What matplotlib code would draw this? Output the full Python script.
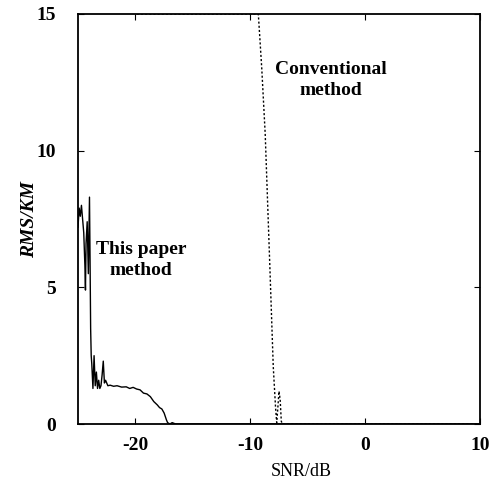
import matplotlib
matplotlib.use("Agg")
import matplotlib.pyplot as plt

plt.rcParams["axes.unicode_minus"] = False

# "This paper method" curve (solid)
snr_paper = [-25.0, -24.9, -24.8, -24.7, -24.6, -24.5, -24.4, -24.35, -24.3, -24.2,
             -24.1, -24.0, -23.95, -23.9, -23.85, -23.8, -23.7, -23.6, -23.5, -23.4,
             -23.3, -23.2, -23.1, -23.0, -22.9, -22.8, -22.7, -22.6, -22.4, -22.2,
             -21.9, -21.6, -21.2, -20.8, -20.5, -20.2, -19.9, -19.6, -19.3, -19.0,
             -18.7, -18.4, -18.1, -17.9, -17.7, -17.5, -17.3, -17.2, -17.0, -16.8,
             -16.5, -10.0, 0.0, 10.0]
rms_paper = [7.2, 7.9, 7.6, 8.0, 7.5, 7.0, 5.8, 4.9, 6.6, 7.4,
             5.5, 8.3, 6.0, 3.5, 2.5, 2.2, 1.3, 2.5, 1.4, 1.9,
             1.3, 1.6, 1.3, 1.4, 1.8, 2.3, 1.5, 1.6, 1.4, 1.42,
             1.38, 1.4, 1.35, 1.36, 1.3, 1.34, 1.28, 1.25, 1.13, 1.1,
             1.0, 0.82, 0.7, 0.6, 0.55, 0.4, 0.15, 0.05, 0.0, 0.05,
             0.0, 0.0, 0.0, 0.0]

# "Conventional method" curve (dotted)
snr_conv = [-25.0, -20.5, -20.0, -15.0, -10.0, -9.3, -9.0, -8.7, -8.3, -8.0,
            -7.8, -7.7, -7.6, -7.5, -7.4, -7.3, -7.2, 0.0, 10.0]
rms_conv = [16.0, 16.0, 15.0, 15.0, 15.0, 15.0, 13.0, 10.6, 5.8, 2.1,
            0.6, 0.05, 0.6, 1.2, 0.9, 0.1, 0.0, 0.0, 0.0]

serif = ["Liberation Serif", "DejaVu Serif"]

fig = plt.figure(figsize=(4.94, 4.86), dpi=100)
ax = fig.add_axes([78 / 494, 1 - 424 / 486, 402 / 494, 410 / 486])

ax.plot(snr_paper, rms_paper, color="black", lw=1.0)
ax.plot(snr_conv, rms_conv, color="black", lw=1.0, ls=(0, (1.5, 1.5)))

ax.set_xlim(-25, 10)
ax.set_ylim(0, 15)
ax.set_xticks([-20, -10, 0, 10])
ax.set_yticks([0, 5, 10, 15])
ax.tick_params(direction="in", length=4, top=True, right=True)
ax.tick_params(axis="x", pad=9)
ax.tick_params(axis="y", pad=16)
for lab in ax.get_xticklabels() + ax.get_yticklabels():
    lab.set_family(serif)
    lab.set_fontweight("bold")
    lab.set_fontsize(14)
for s in ax.spines.values():
    s.set_linewidth(1.3)

ax.set_xlabel("SNR/dB", family=serif, fontsize=13)
ax.xaxis.set_label_coords(0.555, -0.095)
ax.set_ylabel("RMS/KM", family=serif, fontsize=14, fontweight="bold",
              style="italic")
ax.yaxis.set_label_coords(-0.10, 0.5)

ax.text(-19.5, 6.0, "This paper\nmethod", family=serif, fontsize=14,
        fontweight="bold", ha="center", va="center", linespacing=1.3)
ax.text(-3.0, 12.6, "Conventional\nmethod", family=serif, fontsize=14,
        fontweight="bold", ha="center", va="center", linespacing=1.3)

fig.savefig("out.png", dpi=100)
plt.close(fig)
